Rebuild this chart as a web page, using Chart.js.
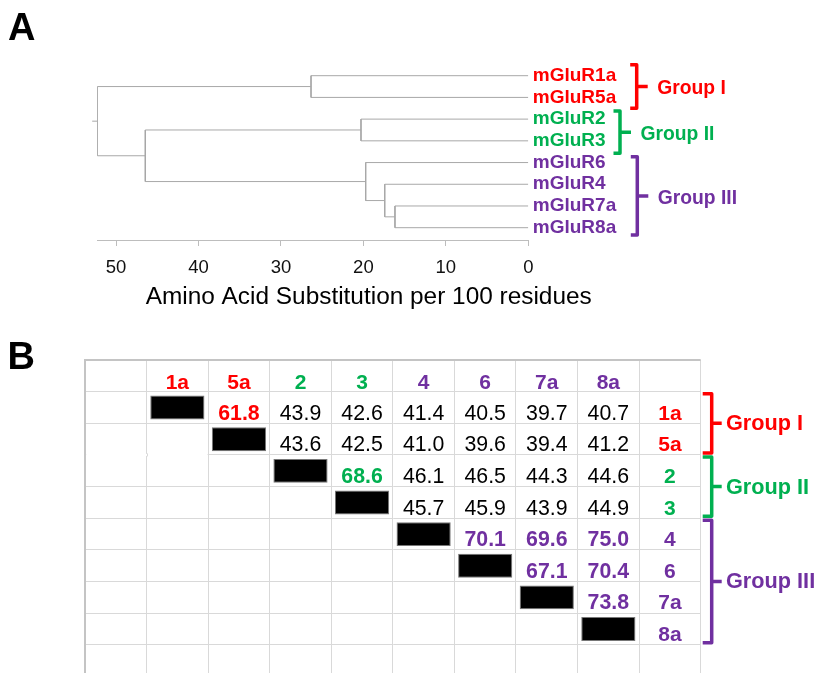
<!DOCTYPE html>
<html><head><meta charset="utf-8">
<script src="https://cdn.jsdelivr.net/npm/chart.js@4.4.0/dist/chart.umd.min.js"></script>
<style>
html,body{margin:0;padding:0;background:#fff;width:816px;height:673px;overflow:hidden;position:relative}
canvas{position:absolute;left:0}
#c1{top:0}
#c2{top:330px}
</style></head><body>
<canvas id="c1" width="816" height="330"></canvas>
<canvas id="c2" width="816" height="343"></canvas>
<script>
// ---------------- DATA ----------------
// Panel A: dendrogram
const leafNames = ['mGluR1a','mGluR5a','mGluR2','mGluR3','mGluR6','mGluR4','mGluR7a','mGluR8a'];
const leafGroups = ['I','I','II','II','III','III','III','III'];
// merges (leaves are 0..7, merged nodes numbered 8,9,...)
const mergeLeft   = [0, 2, 6, 5, 4, 9, 8];
const mergeRight  = [1, 3, 7, 10, 11, 12, 13];
const mergeHeight = [26.35, 20.29, 16.17, 17.41, 19.72, 46.45, 52.27];
const axisTicks = [0, 10, 20, 30, 40, 50];
const axisTitle = 'Amino Acid Substitution per 100 residues';

// Panel B: identity table
const receptors = ['1a','5a','2','3','4','6','7a','8a'];
const receptorGroups = ['I','I','II','II','III','III','III','III'];
const identity1a = [null, 61.8, 43.9, 42.6, 41.4, 40.5, 39.7, 40.7];
const identity5a = [null, null, 43.6, 42.5, 41.0, 39.6, 39.4, 41.2];
const identity2  = [null, null, null, 68.6, 46.1, 46.5, 44.3, 44.6];
const identity3  = [null, null, null, null, 45.7, 45.9, 43.9, 44.9];
const identity4  = [null, null, null, null, null, 70.1, 69.6, 75.0];
const identity6  = [null, null, null, null, null, null, 67.1, 70.4];
const identity7a = [null, null, null, null, null, null, null, 73.8];
const identity8a = [null, null, null, null, null, null, null, null];

const groupKeys  = ['I','II','III'];
const groupNames = ['Group I','Group II','Group III'];

// ---------------- STYLE / LAYOUT ----------------
const FONT = "'Liberation Sans', Arial, Helvetica, sans-serif";
const groupColor = { I: '#ff0000', II: '#00b050', III: '#7030a0' };
const lineGrey = '#a8a8a8';
// panel A brace layout (x in px, span in leaf-index units)
const braceAX    = [636.7, 620.0, 637.3];
const braceAFrom = [-0.50, 1.63, 3.73];
const braceATo   = [1.50, 3.57, 7.34];
const braceATextGap = 9.5;

Chart.defaults.font.family = FONT;

const identityRows = [identity1a, identity5a, identity2, identity3, identity4, identity6, identity7a, identity8a];

// ---------------- PANEL A ----------------
const nodeY = leafNames.map((_, i) => i);
const nodeH = leafNames.map(() => 0);
const dendroSets = [];
mergeLeft.forEach((l, k) => {
  const r = mergeRight[k], H = mergeHeight[k];
  dendroSets.push({
    data: [{x: nodeH[l], y: nodeY[l]}, {x: H, y: nodeY[l]}, {x: H, y: nodeY[r]}, {x: nodeH[r], y: nodeY[r]}],
    showLine: true, borderColor: lineGrey, borderWidth: 1, pointRadius: 0, tension: 0, fill: false
  });
  nodeY.push((nodeY[l] + nodeY[r]) / 2);
  nodeH.push(H);
});
const rootIdx = nodeY.length - 1;
dendroSets.push({
  data: [{x: nodeH[rootIdx], y: nodeY[rootIdx]}, {x: nodeH[rootIdx] + 0.62, y: nodeY[rootIdx]}],
  showLine: true, borderColor: lineGrey, borderWidth: 1, pointRadius: 0, clip: false
});

function drawBrace(ctx, x, y1, y2, arm, nub, color) {
  const ym = (y1 + y2) / 2;
  ctx.save();
  ctx.strokeStyle = color; ctx.lineWidth = 3.5; ctx.lineJoin = 'round'; ctx.lineCap = 'butt';
  ctx.beginPath();
  ctx.moveTo(x - arm, y1); ctx.lineTo(x, y1); ctx.lineTo(x, y2); ctx.lineTo(x - arm, y2);
  ctx.moveTo(x, ym); ctx.lineTo(x + nub, ym);
  ctx.stroke();
  ctx.restore();
  return ym;
}

const panelAOverlay = {
  id: 'panelAOverlay',
  afterDraw(chart) {
    const ctx = chart.ctx, ys = chart.scales.y;
    ctx.save();
    ctx.fillStyle = '#000';
    ctx.font = 'bold 38px ' + FONT;
    ctx.textAlign = 'left'; ctx.textBaseline = 'alphabetic';
    ctx.fillText('A', 8, 40);
    ctx.font = '24.4px ' + FONT;
    ctx.textAlign = 'center'; ctx.textBaseline = 'middle';
    ctx.fillText(axisTitle, 368.7, 297);
    groupKeys.forEach((g, k) => {
      const y1 = ys.getPixelForValue(braceAFrom[k]);
      const y2 = ys.getPixelForValue(braceATo[k]);
      const ym = drawBrace(ctx, braceAX[k], y1, y2, 6.5, 11, groupColor[g]);
      ctx.fillStyle = groupColor[g];
      ctx.font = 'bold 19.3px ' + FONT;
      ctx.textAlign = 'left'; ctx.textBaseline = 'middle';
      ctx.fillText(groupNames[k], braceAX[k] + 11 + braceATextGap, ym + 2.5);
    });
    ctx.restore();
  }
};

new Chart(document.getElementById('c1'), {
  type: 'scatter',
  data: { datasets: dendroSets },
  options: {
    responsive: false, animation: false, events: [],
    layout: { padding: { top: 64.84, left: 97.3, right: 187.7, bottom: 0 } },
    plugins: { legend: { display: false }, tooltip: { enabled: false } },
    scales: {
      x: {
        type: 'linear', position: 'bottom', reverse: true, min: 0, max: mergeHeight[mergeHeight.length - 1],
        afterBuildTicks: s => { s.ticks = axisTicks.map(v => ({ value: v })); },
        afterFit: s => { s.height = 90; s.paddingLeft = 0; s.paddingRight = 0; },
        ticks: { color: '#111', font: { size: 18.5 }, padding: 11, autoSkip: false, maxRotation: 0 },
        grid: { drawOnChartArea: false, drawTicks: true, tickLength: 6, color: '#bdbdbd', lineWidth: 1 },
        border: { display: true, color: '#bdbdbd', width: 1 }
      },
      y: {
        type: 'linear', position: 'right', reverse: true, min: -0.5, max: 7.567,
        afterBuildTicks: s => { s.ticks = leafNames.map((_, i) => ({ value: i })); },
        afterFit: s => { s.width = 100; s.paddingTop = 0; s.paddingBottom = 0; },
        ticks: {
          autoSkip: false, padding: 4.5,
          callback: v => leafNames[v],
          color: c => groupColor[leafGroups[c.tick ? c.tick.value : c.index]],
          font: { size: 19, weight: 'bold' }
        },
        grid: { display: false, drawTicks: false },
        border: { display: false }
      }
    }
  },
  plugins: [panelAOverlay]
});

// ---------------- PANEL B ----------------
const colKeys = ['rowhead', ...receptors, 'rowlabel'];
const boxData = receptors.map((r, i) => ({ x: r, y: [i + 1 + 0.126, i + 1 + 0.883] }));

const panelBOverlay = {
  id: 'panelBOverlay',
  afterDraw(chart) {
    const ctx = chart.ctx, xs = chart.scales.x, ys = chart.scales.y, area = chart.chartArea;
    ctx.save();
    // the sheet has no border between rows 5a and 2 in the first two columns
    const colW = xs.getPixelForValue(1) - xs.getPixelForValue(0);
    const xEdge0 = xs.getPixelForValue(0) - colW / 2;
    const xEdge1 = xs.getPixelForValue(1) - colW / 2;
    const xEdge2 = xs.getPixelForValue(2) - colW / 2;
    const yGap = ys.getPixelForValue(3);
    ctx.fillStyle = '#fff';
    ctx.fillRect(xEdge0 + 1.2, yGap - 1, xEdge2 - xEdge0 - 1.8, 2);
    ctx.strokeStyle = '#d9d9d9'; ctx.lineWidth = 1;
    ctx.beginPath(); ctx.moveTo(Math.round(xEdge1) + 0.5, yGap - 1.5); ctx.lineTo(Math.round(xEdge1) + 0.5, yGap + 1.5); ctx.stroke();

    ctx.fillStyle = '#000';
    ctx.font = 'bold 38px ' + FONT;
    ctx.textAlign = 'left'; ctx.textBaseline = 'alphabetic';
    ctx.fillText('B', 7.5, 369.3 - 330);
    ctx.textAlign = 'center';
    // headers
    receptors.forEach((r, c) => {
      ctx.fillStyle = groupColor[receptorGroups[c]];
      ctx.font = 'bold 21px ' + FONT;
      ctx.fillText(r, xs.getPixelForValue(c + 1), ys.getPixelForValue(1) - 3);
    });
    // values
    identityRows.forEach((row, ri) => {
      row.forEach((v, ci) => {
        if (v === null) return;
        const same = receptorGroups[ri] === receptorGroups[ci];
        ctx.fillStyle = same ? groupColor[receptorGroups[ri]] : '#000';
        ctx.font = (same ? 'bold ' : '') + '21.3px ' + FONT;
        ctx.fillText(v.toFixed(1), xs.getPixelForValue(ci + 1), ys.getPixelForValue(ri + 2) - 3.6);
      });
      // row label
      ctx.fillStyle = groupColor[receptorGroups[ri]];
      ctx.font = 'bold 21px ' + FONT;
      ctx.fillText(receptors[ri], xs.getPixelForValue(colKeys.length - 1), ys.getPixelForValue(ri + 2) - 3.6);
    });
    // braces
    groupKeys.forEach((g, k) => {
      const first = receptorGroups.indexOf(g), last = receptorGroups.lastIndexOf(g);
      const y1 = ys.getPixelForValue(first + 1) + 2;
      const y2 = ys.getPixelForValue(last + 2) - 2;
      const bx = area.right + 11;
      const ym = drawBrace(ctx, bx, y1, y2, 9, 10, groupColor[g]);
      ctx.fillStyle = groupColor[g];
      ctx.font = 'bold 21.7px ' + FONT;
      ctx.textAlign = 'left'; ctx.textBaseline = 'middle';
      ctx.fillText(groupNames[k], bx + 14.3, ym + 1);
      ctx.textAlign = 'center'; ctx.textBaseline = 'alphabetic';
    });
    ctx.restore();
  }
};

new Chart(document.getElementById('c2'), {
  type: 'bar',
  data: {
    labels: colKeys,
    datasets: [{
      data: boxData, backgroundColor: '#000', borderColor: '#777', borderWidth: 1, borderSkipped: false,
      barPercentage: 0.88, categoryPercentage: 1
    }]
  },
  options: {
    responsive: false, animation: false, events: [],
    layout: { padding: { top: 30, left: 85, right: 115.3, bottom: 0 } },
    plugins: { legend: { display: false }, tooltip: { enabled: false } },
    scales: {
      x: {
        type: 'category', position: 'top', offset: true,
        afterFit: s => { s.height = 0; s.paddingLeft = 0; s.paddingRight = 0; },
        ticks: { display: false },
        grid: { offset: true, drawTicks: false, color: '#d9d9d9', lineWidth: 1 },
        border: { display: false }
      },
      y: {
        type: 'linear', position: 'left', reverse: true, min: 0, max: 9.895,
        afterBuildTicks: s => { s.ticks = Array.from({ length: 10 }, (_, i) => ({ value: i })); },
        afterFit: s => { s.width = 0; s.paddingTop = 0; s.paddingBottom = 0; },
        ticks: { display: false },
        grid: {
          drawTicks: false,
          color: c => (c.tick && c.tick.value === 0) ? '#c4c4c4' : '#d9d9d9',
          lineWidth: c => (c.tick && c.tick.value === 0) ? 2 : 1
        },
        border: { display: true, color: '#c4c4c4', width: 2 }
      }
    }
  },
  plugins: [panelBOverlay]
});
</script>
</body></html>
